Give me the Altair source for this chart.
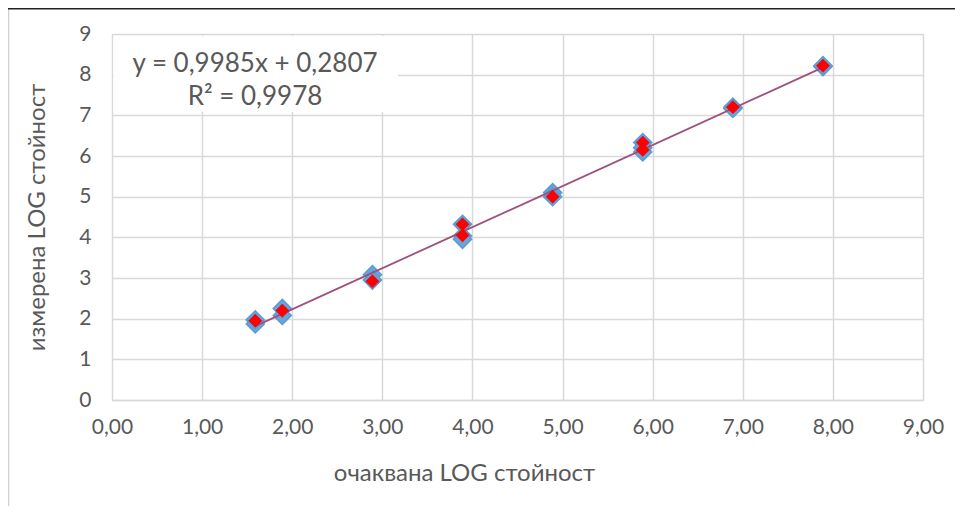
import altair as alt
import pandas as pd

# --- data ---
blue_x = [1.59, 1.59, 1.89, 1.89, 2.89, 2.89, 3.89, 3.89, 3.89, 4.89, 4.89,
          5.89, 5.89, 5.89, 6.89, 6.89, 7.89, 7.89]
blue_y = [1.87, 1.97, 2.08, 2.25, 3.08, 2.95, 4.32, 4.03, 3.95, 5.10, 5.00,
          6.33, 6.20, 6.10, 7.20, 7.17, 8.20, 8.22]
red_x = [1.59, 1.89, 2.89, 3.89, 3.89, 4.89, 5.89, 5.89, 6.89, 7.89]
red_y = [1.95, 2.20, 2.92, 4.32, 4.05, 5.00, 6.33, 6.15, 7.20, 8.22]

eq_lines = ["y = 0,9985x + 0,2807", "R² = 0,9978"]
x_title = "очаквана LOG стойност"
y_title = "измерена LOG стойност"
ticks = list(range(10))

blue = pd.DataFrame({"x": blue_x, "y": blue_y})
red = pd.DataFrame({"x": red_x, "y": red_y})

W, H = 811, 366
FONT = "Lato"
GREY = "#595959"
GRID = "#D9D9D9"

xs = alt.Scale(domain=[0, 9], nice=False)
ys = alt.Scale(domain=[0, 9], nice=False)

xaxis = alt.Axis(values=ticks, grid=True, gridColor=GRID, gridWidth=1.5,
                 ticks=False, tickSize=0, domain=True, domainColor=GRID,
                 domainWidth=1.5,
                 labelExpr="replace(format(datum.value, '.2f'), '.', ',')",
                 labelFont=FONT, labelFontSize=21, labelColor=GREY,
                 labelPadding=16, labelFlush=False,
                 title=x_title, titleFont=FONT, titleFontSize=24,
                 titleFontWeight="normal", titleColor=GREY,
                 titleX=352, titleY=73, titleBaseline="middle",
                 titleAlign="center")
yaxis = alt.Axis(values=ticks, grid=True, gridColor=GRID, gridWidth=1.5,
                 ticks=False, tickSize=0, domain=False,
                 labelFont=FONT, labelFontSize=21, labelColor=GREY,
                 labelPadding=21, labelFlush=False, labelBaseline="middle",
                 title=y_title, titleFont=FONT, titleFontSize=24,
                 titleFontWeight="normal", titleColor=GREY,
                 titleX=-75, titleY=183, titleBaseline="middle",
                 titleAlign="center", titleAngle=-90)

blue_pts = alt.Chart(blue).mark_point(
    shape="diamond", filled=True, size=330, fill="#6AA5DC",
    stroke="#5B9BD5", strokeWidth=1.5, opacity=1
).encode(x=alt.X("x:Q", scale=xs, axis=xaxis),
         y=alt.Y("y:Q", scale=ys, axis=yaxis))

trend = alt.Chart(blue).transform_regression(
    "x", "y", extent=[1.59, 7.89]
).mark_line(color="#A0507E", strokeWidth=1.8).encode(
    x=alt.X("x:Q", scale=xs), y=alt.Y("y:Q", scale=ys))

red_pts = alt.Chart(red).mark_point(
    shape="diamond", filled=True, size=175, fill="#FF0000",
    stroke="#E00000", strokeWidth=0.5, opacity=1
).encode(x=alt.X("x:Q", scale=xs), y=alt.Y("y:Q", scale=ys))

box = alt.Chart(pd.DataFrame({"k": [0]})).mark_rect(
    fill="white", stroke=None
).encode(x=alt.value(1.5), x2=alt.value(286), y=alt.value(2), y2=alt.value(78))

eq1 = alt.Chart(pd.DataFrame({"t": [eq_lines[0]]})).mark_text(
    font=FONT, fontSize=26, color=GREY, align="center", baseline="middle"
).encode(text="t:N", x=alt.value(143), y=alt.value(30))
eq2 = alt.Chart(pd.DataFrame({"t": [eq_lines[1]]})).mark_text(
    font=FONT, fontSize=26, color=GREY, align="center", baseline="middle"
).encode(text="t:N", x=alt.value(143), y=alt.value(63))

left_frame = alt.Chart(pd.DataFrame({"k": [0]})).mark_rule(
    color="#D0D0D0", strokeWidth=1.5
).encode(x=alt.value(-103.5), y=alt.value(-26), y2=alt.value(H + 106))
top_frame = alt.Chart(pd.DataFrame({"k": [0]})).mark_rule(
    color="#222222", strokeWidth=1.5
).encode(x=alt.value(-104), x2=alt.value(W + 32), y=alt.value(-25.2))

chart = alt.layer(
    blue_pts, trend, red_pts, box, eq1, eq2, left_frame, top_frame
).properties(
    width=W, height=H,
    autosize=alt.AutoSizeParams(type="none"),
    padding={"left": 104, "top": 26, "right": 32, "bottom": 106},
).configure_view(stroke=None).configure(background="white")

chart.save("out.html", embed_options={"renderer": "svg", "actions": False})
